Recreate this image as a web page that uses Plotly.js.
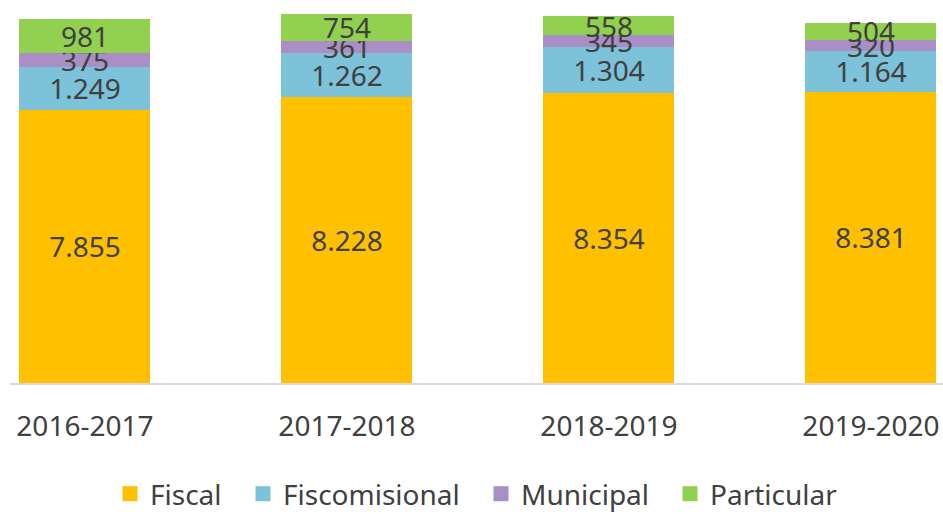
<!DOCTYPE html>
<html>
<head>
<meta charset="utf-8">
<script src="https://cdn.plot.ly/plotly-3.0.1.min.js"></script>
<style>html,body{margin:0;padding:0;background:#fff;}#chart{width:943px;height:514px;}</style>
</head>
<body>
<div id="chart"></div>
<script>
const categories = ["2016-2017", "2017-2018", "2018-2019", "2019-2020"];
const fiscal = [7855, 8228, 8354, 8381];
const fiscomisional = [1249, 1262, 1304, 1164];
const municipal = [375, 361, 345, 320];
const particular = [981, 754, 558, 504];
const seriesNames = ["Fiscal", "Fiscomisional", "Municipal", "Particular"];
const seriesColors = ["#FFC000", "#7CC2D8", "#A98FC6", "#92D050"];
const seriesValues = [fiscal, fiscomisional, municipal, particular];

const FONT = "'Noto Sans', 'Open Sans', sans-serif";
const TXT = "#404040";
const legendIds = ["legend", "legend2", "legend3", "legend4"];
const legendLeftPx = [110, 243, 481, 670];

const traces = seriesValues.map((vals, i) => ({
  type: "bar",
  name: seriesNames[i],
  x: categories,
  y: vals,
  marker: {color: seriesColors[i], line: {width: 0}},
  texttemplate: "%{y:,.0f}",
  textposition: "inside",
  insidetextanchor: "middle",
  constraintext: "none",
  textfont: {family: FONT, size: 28, color: TXT},
  hoverinfo: "skip",
  showlegend: false
}));

// legend entries with larger square swatches, one legend per entry
seriesNames.forEach((n, i) => {
  traces.push({
    type: "scatter", mode: "markers", name: n,
    x: [null], y: [null],
    marker: {symbol: "square", size: 15, color: seriesColors[i]},
    showlegend: true, hoverinfo: "skip",
    legend: legendIds[i]
  });
});

const layout = {
  width: 943, height: 514,
  barmode: "stack",
  bargap: 0.5,
  separators: ",.",
  margin: {l: 10, r: 0, t: 10, b: 131, autoexpand: false},
  paper_bgcolor: "#fff",
  plot_bgcolor: "#fff",
  font: {family: FONT, color: TXT},
  xaxis: {
    type: "category",
    range: [-0.286, 3.275],
    showline: true, linecolor: "#D9D9D9", linewidth: 2,
    ticks: "", ticklabelstandoff: 17,
    tickfont: {family: FONT, size: 28, color: TXT},
    showgrid: false, zeroline: false, automargin: false
  },
  yaxis: {
    range: [0, 10730],
    visible: false, showgrid: false, zeroline: false
  },
  showlegend: true
};

legendIds.forEach((id, i) => {
  layout[id] = {
    orientation: "h",
    xref: "container", yref: "container",
    x: legendLeftPx[i] / 943, xanchor: "left",
    y: 1 - 494 / 514, yanchor: "middle",
    font: {family: FONT, size: 28, color: TXT},
    itemwidth: 30, itemclick: false,
    bgcolor: "rgba(0,0,0,0)", borderwidth: 0
  };
});

Plotly.newPlot("chart", traces, layout, {displayModeBar: false, staticPlot: true});
</script>
</body>
</html>
